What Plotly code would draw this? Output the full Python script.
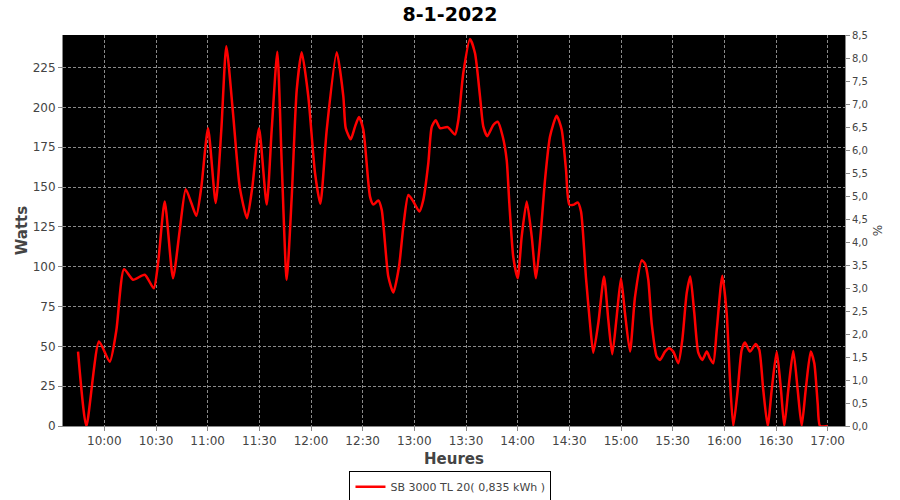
import plotly.graph_objects as go

DATE = "2022-01-08 "

times = [
    "09:44:44", "09:49:33", "09:56:55", "10:03:08", "10:06:58", "10:11:26", "10:16:40", "10:23:28",
    "10:28:41", "10:31:11", "10:35:04", "10:39:53", "10:43:47", "10:47:16", "10:50:31", "10:53:25",
    "10:56:19", "11:00:13", "11:04:41", "11:07:56", "11:10:50", "11:14:43", "11:18:37", "11:22:51",
    "11:25:56", "11:29:49", "11:34:17", "11:37:11", "11:40:27", "11:43:00", "11:45:54", "11:48:49",
    "11:51:43", "11:54:37", "11:58:26", "12:02:20", "12:05:25", "12:09:08", "12:14:56", "12:18:46",
    "12:20:10", "12:23:04", "12:25:34", "12:27:53", "12:30:23", "12:34:16", "12:36:11", "12:39:05",
    "12:41:04", "12:44:53", "12:47:48", "12:51:06", "12:53:36", "12:56:31", "12:59:25", "13:02:53",
    "13:05:13", "13:08:07", "13:10:05", "13:12:25", "13:14:55", "13:19:23", "13:23:37", "13:25:32",
    "13:28:26", "13:32:20", "13:35:14", "13:38:08", "13:40:03", "13:42:22", "13:45:52", "13:48:25",
    "13:51:19", "13:53:38", "13:55:09", "13:57:28", "14:00:01", "14:02:21", "14:05:15", "14:08:09",
    "14:10:39", "14:13:23", "14:15:53", "14:18:47", "14:22:40", "14:25:34", "14:28:04", "14:29:59",
    "14:32:43", "14:34:52", "14:36:47", "14:39:41", "14:42:00", "14:43:55", "14:46:49", "14:50:08",
    "14:52:38", "14:54:57", "14:57:30", "15:00:00", "15:02:19", "15:05:14", "15:08:08", "15:12:01",
    "15:13:56", "15:15:51", "15:17:49", "15:20:44", "15:22:38", "15:25:33", "15:27:52", "15:30:22",
    "15:33:16", "15:35:35", "15:38:09", "15:40:14", "15:42:34", "15:44:53", "15:47:12", "15:49:46",
    "15:51:40", "15:53:35", "15:55:34", "15:58:49", "16:01:22", "16:03:17", "16:05:12", "16:07:46",
    "16:10:05", "16:12:00", "16:14:54", "16:18:13", "16:20:18", "16:22:37", "16:25:11", "16:27:30",
    "16:30:25", "16:32:54", "16:34:49", "16:37:08", "16:40:02", "16:42:36", "16:44:55", "16:47:14",
    "16:50:09", "16:52:14", "16:54:13", "16:55:33", "17:00:00",
]

watts = [
    46.7, 0.0, 53.0, 40.4, 60.0, 98.5, 91.8, 95.0,
    86.5, 102.0, 141.0, 92.8, 123.0, 148.7, 140.0, 132.0,
    150.0, 187.0, 140.0, 186.0, 238.5, 196.5, 150.0, 130.5,
    150.0, 187.0, 139.0, 186.0, 235.0, 165.0, 91.8, 144.0,
    211.0, 234.6, 207.0, 158.8, 139.5, 186.0, 234.6, 207.0,
    187.0, 180.0, 188.0, 194.0, 186.0, 144.0, 139.0, 141.6,
    135.7, 93.8, 83.8, 100.0, 125.0, 145.0, 141.0, 134.7,
    142.0, 165.0, 187.7, 192.0, 187.0, 187.7, 183.0, 192.0,
    221.6, 243.0, 234.0, 207.0, 188.0, 182.0, 189.0, 191.0,
    181.8, 167.0, 140.0, 106.0, 92.8, 119.0, 141.0, 119.0,
    92.8, 121.0, 154.6, 181.8, 194.8, 186.0, 161.0, 139.0,
    139.0, 140.4, 134.7, 92.8, 64.5, 46.0, 64.5, 93.8,
    66.6, 45.0, 68.7, 92.8, 70.8, 46.7, 81.0, 104.0,
    102.0, 91.8, 64.5, 43.6, 41.5, 46.7, 48.8, 46.7,
    39.4, 54.0, 83.4, 93.8, 70.8, 46.0, 41.5, 46.7,
    42.5, 39.4, 60.0, 94.3, 70.8, 29.0, 0.0, 22.6,
    47.8, 52.4, 46.7, 51.5, 47.8, 22.6, 0.0, 22.6,
    46.7, 22.6, 0.0, 22.6, 47.3, 22.6, 0.0, 22.6,
    46.7, 39.4, 14.0, 0.0, 0.0,
]

series_name = "SB 3000 TL 20( 0,835 kWh )"
title_text = "8-1-2022"
x_title = "Heures"
y_title = "Watts"
y2_title = "%"
x_range = ["09:36:00", "17:10:04"]
y_range = [0, 245.5]
y2_range = [0, 8.5]

x = [DATE + t for t in times]

FONT = "DejaVu Sans"
GRID = "#8a8a8a"
AXIS = "#888888"

fig = go.Figure()
fig.add_trace(go.Scatter(
    x=x, y=watts, mode="lines", name=series_name,
    line=dict(color="#ff0000", width=2.5, shape="spline", smoothing=0.6),
    showlegend=True,
))
fig.add_trace(go.Scatter(
    x=[x[0]], y=[0], yaxis="y2", mode="markers",
    marker=dict(opacity=0), showlegend=False, hoverinfo="skip",
))

fig.update_layout(
    width=900, height=500,
    separators=", ",
    paper_bgcolor="white", plot_bgcolor="black",
    margin=dict(l=63, r=55, t=35, b=74, autoexpand=False),
    font=dict(family=FONT, size=12, color="#444444"),
    title=dict(text="<b>" + title_text + "</b>", x=0.5, xanchor="center",
               yref="container", y=1 - 14 / 500, yanchor="middle", automargin=False,
               font=dict(family=FONT, size=19, color="black")),
    xaxis=dict(
        type="date", range=[DATE + x_range[0], DATE + x_range[1]], automargin=False,
        tick0=DATE + "10:00:00", dtick=1800000, tickformat="%H:%M",
        showgrid=True, gridcolor=GRID, griddash="3px,2px", gridwidth=1,
        ticks="outside", ticklen=4, tickcolor=AXIS,
        showline=True, linecolor=AXIS, linewidth=1, zeroline=False,
        tickfont=dict(size=12, color="#444444"),
        title=dict(text="<b>" + x_title + "</b>", font=dict(size=15, color="#444444"), standoff=6),
    ),
    yaxis=dict(
        range=y_range, tick0=0, dtick=25, automargin=False,
        showgrid=True, gridcolor=GRID, griddash="3px,2px", gridwidth=1,
        ticks="outside", ticklen=4, tickcolor=AXIS,
        showline=True, linecolor=AXIS, linewidth=1, zeroline=False,
        tickfont=dict(size=12, color="#444444"),
        title=dict(text="<b>" + y_title + "</b>", font=dict(size=15, color="#444444"), standoff=1),
    ),
    yaxis2=dict(
        overlaying="y", side="right", range=y2_range, tick0=0, dtick=0.5, tickformat=".1f",
        automargin=False, showgrid=False, zeroline=False,
        ticks="outside", ticklen=4, tickcolor=AXIS,
        showline=True, linecolor=AXIS, linewidth=1,
        tickfont=dict(size=10, color="#444444"),
        title=dict(text=y2_title, font=dict(size=12, color="#444444"), standoff=6),
    ),
    legend=dict(
        orientation="h", x=0.4955, xanchor="center", y=-0.116, yanchor="top",
        bordercolor="black", borderwidth=1, bgcolor="white",
        font=dict(size=11, color="#444444"),
        itemwidth=30, tracegroupgap=0,
    ),
)

fig.write_html("out.html", config={"displayModeBar": False},
               post_script="document.body.style.margin='0';")
